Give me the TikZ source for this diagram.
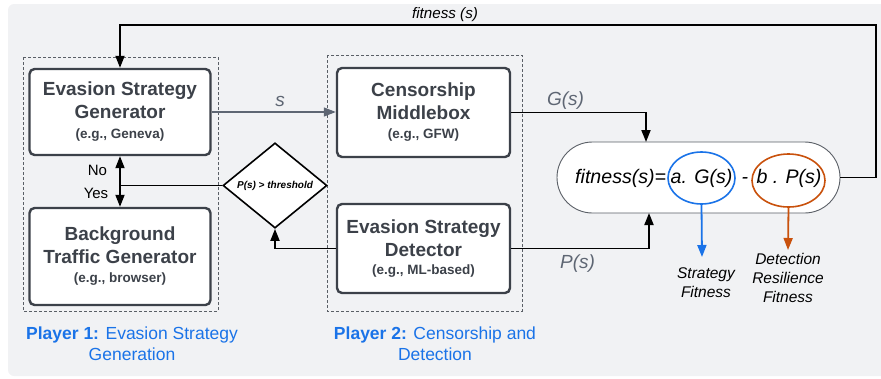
\documentclass[tikz,border=0pt]{standalone}
\usepackage{fontspec}
\setmainfont{Liberation Sans}
\usetikzlibrary{arrows.meta,shapes.geometric}
\definecolor{bgc}{HTML}{F1F2F4}
\definecolor{boxc}{HTML}{3C4149}
\definecolor{dashc}{HTML}{5A5F66}
\definecolor{greyc}{HTML}{5E6673}
\definecolor{bluec}{HTML}{1A73E8}
\definecolor{orangec}{HTML}{C9510C}
\tikzset{
  box/.style={draw=boxc, line width=2.4pt, rounded corners=5pt, fill=white, text=boxc,
    align=center, inner sep=0pt, font=\fontsize{19}{23}\selectfont\bfseries},
  group/.style={draw=dashc, line width=0.8pt, dash pattern=on 3pt off 2pt},
  tip/.style={-{Triangle[length=12pt,width=9pt]}},
  conn/.style={black, line width=1.8pt, tip},
  lbl/.style={anchor=base, inner sep=0pt},
  caption/.style={align=center, anchor=base, inner sep=0pt, text=bluec, font=\fontsize{17.5}{21}\selectfont},
  outlbl/.style={align=center, anchor=base, inner sep=0pt, font=\fontsize{15.5}{19}\selectfont\itshape}
}
\newcommand{\subt}[1]{{\fontsize{13.5}{16}\selectfont #1}}
\begin{document}
\begin{tikzpicture}[x=1pt,y=-1pt]
\useasboundingbox (0,0) rectangle (881,378);
\fill[bgc, rounded corners=6pt] (8,4) rectangle (895,376);

% groups
\draw[group] (23,57) rectangle (218,311);
\draw[group] (327,55) rectangle (522,311);

% boxes
\node[box, minimum width=181, minimum height=86] (esg) at (120,112)
  {Evasion Strategy\\Generator\\[-3pt]\subt{(e.g., Geneva)}};
\node[box, minimum width=181, minimum height=97] (btg) at (120,256.5)
  {Background\\Traffic Generator\\[-4pt]\subt{(e.g., browser)}};
\node[box, minimum width=173, minimum height=89] (cm) at (423.5,112.5)
  {Censorship\\Middlebox\\[-4pt]\subt{(e.g., GFW)}};
\node[box, minimum width=173, minimum height=89] (esd) at (423.5,248.5)
  {Evasion Strategy\\Detector\\[-5pt]\subt{(e.g., ML-based)}};

% decision diamond
\node[diamond, draw=black, line width=1.6pt, fill=white, inner sep=0pt,
      minimum width=104, minimum height=61,
      font=\fontsize{10}{12}\selectfont\bfseries\itshape] (dia) at (275,185.5)
  {P(s) > threshold};
\coordinate (jn) at (120,185.5);

% fitness stadium
\node[draw=dashc, line width=0.9pt, fill=white, rounded corners=35.5pt,
      minimum width=283, minimum height=71, inner sep=0pt] (fit) at (698.5,177.5) {};
\node[lbl, font=\fontsize{19.6}{22}\selectfont\itshape, anchor=base west] (fx) at (575,183) {fitness(s)=};
\node[ellipse, draw=bluec, line width=1.6pt, minimum width=67, minimum height=52, inner sep=0pt] (be) at (701.5,178) {};
\node[ellipse, draw=orangec, line width=1.6pt, minimum width=73, minimum height=53, inner sep=0pt] (oe) at (788.5,180.5) {};
\node[lbl, font=\fontsize{19.6}{22}\selectfont\itshape] (ga) at (701.5,183) {a. G(s)};
\node[lbl, font=\fontsize{19.6}{22}\selectfont\itshape] (mi) at (745,183) {-};
\node[lbl, font=\fontsize{19.6}{22}\selectfont\itshape] (pb) at (789,183) {b . P(s)};

% outcome labels
\node[outlbl] (sf) at (706,297) {Strategy\\Fitness};
\node[outlbl] (drf) at (788,302) {Detection\\Resilience\\Fitness};
\draw[bluec, line width=1.8pt, tip] (be.south) -- (702,257);
\draw[orangec, line width=1.8pt, tip] (oe.south) -- (788,250);

% connectors
\draw[greyc, line width=1.2pt, tip] (esg.east) -- (esg.east -| cm.west);
\node[lbl, text=greyc, font=\fontsize{19}{22}\selectfont\itshape] (sl) at (280,106) {s};

\coordinate (gin) at (646,142);
\draw[conn] (cm.east) -| (gin);
\node[lbl, text=greyc, font=\fontsize{19}{22}\selectfont\itshape] (gl) at (565.5,105) {G(s)};

\coordinate (pin) at (649,213);
\draw[conn] (esd.east) -| (pin);
\node[lbl, text=greyc, font=\fontsize{19}{22}\selectfont\itshape] (pl) at (577.5,268) {P(s)};

\coordinate (fbr) at (876,25);
\draw[conn] (fit.east) -| (fbr) -| (esg.north);
\node[lbl, font=\fontsize{15.2}{18}\selectfont\itshape] (fbl) at (445,18) {fitness (s)};

\draw[conn] (esd.west) -| (dia.south);
\draw[black, line width=1.8pt] (dia.west) -- (jn);
\draw[conn] (jn) -- (esg.south);
\draw[conn] (jn) -- (btg.north);
\node[lbl, font=\fontsize{15}{18}\selectfont] (no) at (97.5,175) {No};
\node[lbl, font=\fontsize{15}{18}\selectfont] (yes) at (96,198) {Yes};

% player captions
\node[caption] (p1) at (132,360) {\textbf{Player 1:} Evasion Strategy\\Generation};
\node[caption] (p2) at (435,360) {\textbf{Player 2:} Censorship and\\Detection};
\end{tikzpicture}
\end{document}
